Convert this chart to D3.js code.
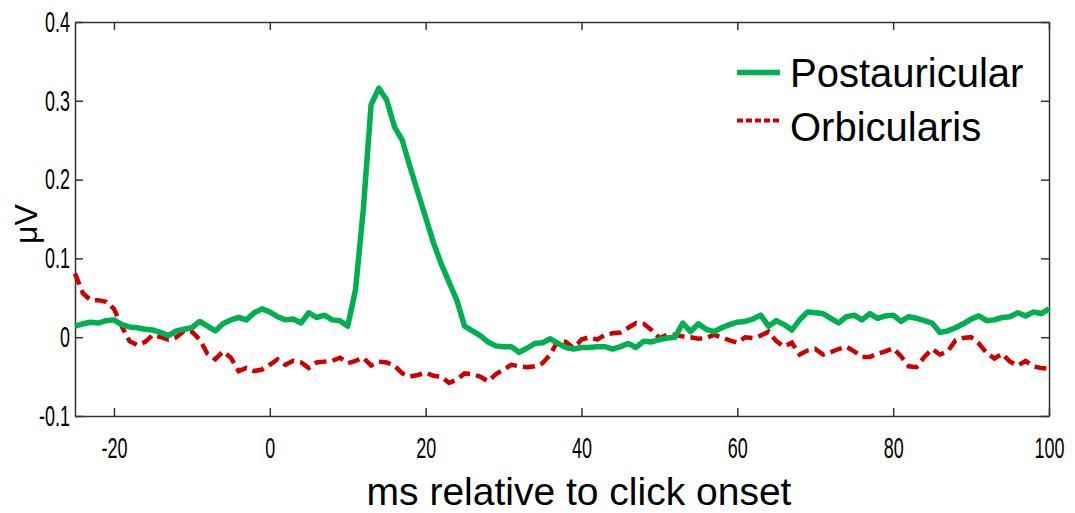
<!DOCTYPE html>
<html>
<head>
<meta charset="utf-8">
<script src="https://cdn.jsdelivr.net/npm/d3@7"></script>
<style>
  body { margin: 0; background: #fff; }
</style>
</head>
<body>
<div class="chart"></div>
<script>
// values, one sample per ms
var times = d3.range(-25, 101);
var postauricular = [
  0.014, 0.017, 0.019, 0.018, 0.021, 0.022, 0.016, 0.013, 0.012, 0.010,
  0.009, 0.006, 0.002, 0.008, 0.010, 0.012, 0.020, 0.014, 0.008, 0.017,
  0.022, 0.025, 0.022, 0.031, 0.036, 0.032, 0.026, 0.022, 0.023, 0.018,
  0.031, 0.025, 0.028, 0.022, 0.021, 0.014, 0.060, 0.162, 0.295, 0.316,
  0.301, 0.267, 0.250, 0.216, 0.184, 0.152, 0.120, 0.093, 0.070, 0.047,
  0.014, 0.008, 0.002, -0.006, -0.011, -0.012, -0.012, -0.019, -0.014, -0.008,
  -0.007, -0.002, -0.008, -0.013, -0.015, -0.013, -0.013, -0.012, -0.012, -0.015,
  -0.012, -0.008, -0.013, -0.005, -0.006, -0.003, -0.001, 0.000, 0.018, 0.007,
  0.017, 0.010, 0.007, 0.012, 0.016, 0.019, 0.020, 0.023, 0.028, 0.014,
  0.021, 0.016, 0.009, 0.022, 0.032, 0.031, 0.030, 0.024, 0.018, 0.026,
  0.028, 0.022, 0.030, 0.024, 0.027, 0.028, 0.020, 0.026, 0.024, 0.021,
  0.018, 0.006, 0.008, 0.012, 0.017, 0.023, 0.027, 0.021, 0.022, 0.025,
  0.026, 0.031, 0.027, 0.032, 0.030, 0.036
];
var orbicularis = [
  0.081, 0.056, 0.047, 0.047, 0.045, 0.036, 0.014, -0.005, -0.010, -0.006,
  0.003, 0.000, -0.003, 0.000, 0.008, 0.007, -0.003, -0.021, -0.028, -0.018,
  -0.026, -0.043, -0.039, -0.043, -0.041, -0.035, -0.028, -0.035, -0.030, -0.032,
  -0.039, -0.032, -0.031, -0.030, -0.026, -0.033, -0.030, -0.026, -0.036, -0.031,
  -0.032, -0.036, -0.046, -0.050, -0.048, -0.045, -0.049, -0.050, -0.058, -0.054,
  -0.046, -0.047, -0.050, -0.056, -0.047, -0.041, -0.035, -0.037, -0.038, -0.037,
  -0.033, -0.022, -0.004, -0.006, -0.014, -0.003, 0.000, -0.003, 0.003, 0.005,
  0.006, 0.012, 0.018, 0.017, 0.009, -0.001, 0.003, 0.003, 0.001, 0.000,
  -0.002, -0.001, 0.003, 0.000, -0.004, -0.007, 0.000, -0.001, 0.002, 0.007,
  -0.005, -0.012, -0.007, -0.022, -0.017, -0.015, -0.022, -0.019, -0.015, -0.012,
  -0.018, -0.025, -0.025, -0.021, -0.018, -0.014, -0.024, -0.037, -0.038, -0.025,
  -0.015, -0.022, -0.018, -0.004, -0.001, 0.000, -0.008, -0.020, -0.027, -0.021,
  -0.031, -0.036, -0.030, -0.037, -0.039, -0.040
];
var xTicks = [-20, 0, 20, 40, 60, 80, 100];
var yTicks = [-0.1, 0, 0.1, 0.2, 0.3, 0.4];
var seriesNames = ['Postauricular', 'Orbicularis'];

var width = 1075, height = 513;
var plotLeft = 75, plotRight = 1049, plotTop = 22, plotBottom = 416;

var svg = d3.select('.chart')
            .append('svg')
            .attr('width', width)
            .attr('height', height);

var x = d3.scaleLinear().domain([-25, 100]).range([plotLeft, plotRight]);
var y = d3.scaleLinear().domain([-0.1, 0.4]).range([plotBottom, plotTop]);

var axisColor = '#333';
var mainFont = 'Liberation Sans, Arial, sans-serif';
var squeeze = 0.62;   // tick labels are a condensed face in the original
var tickFmt = function(d) { return d === 0 ? '0' : String(d); };

// axes with inward ticks on all four sides
svg.append('g')
   .attr('transform', 'translate(0,' + plotBottom + ')')
   .call(d3.axisBottom(x).tickValues(xTicks).tickSizeInner(-8).tickSizeOuter(0).tickPadding(21).tickFormat(tickFmt));
svg.append('g')
   .attr('transform', 'translate(' + plotLeft + ',0)')
   .call(d3.axisLeft(y).tickValues(yTicks).tickSizeInner(-8).tickSizeOuter(0).tickPadding(8).tickFormat(tickFmt));
svg.append('g')
   .attr('transform', 'translate(0,' + plotTop + ')')
   .call(d3.axisTop(x).tickValues(xTicks).tickSizeInner(-8).tickSizeOuter(0).tickFormat(''));
svg.append('g')
   .attr('transform', 'translate(' + plotRight + ',0)')
   .call(d3.axisRight(y).tickValues(yTicks).tickSizeInner(-8).tickSizeOuter(0).tickFormat(''));

svg.selectAll('.domain, .tick line')
   .attr('stroke', axisColor)
   .attr('stroke-width', 1.5);

svg.selectAll('.tick text')
   .attr('fill', '#000')
   .attr('transform', 'scale(' + squeeze + ',1)')
   .style('font-family', mainFont)
   .style('font-size', '29px');

// data lines
var line = function(vals) {
  return d3.line()
           .x(function(d, i) { return x(times[i]); })
           .y(function(d) { return y(d); })(vals);
};

svg.append('path')
   .attr('d', line(orbicularis))
   .attr('fill', 'none')
   .attr('stroke', '#cc0000')
   .attr('stroke-width', 4.5)
   .attr('stroke-dasharray', '12,6');

svg.append('path')
   .attr('d', line(postauricular))
   .attr('fill', 'none')
   .attr('stroke', '#00b050')
   .attr('stroke-width', 5.5)
   .attr('stroke-linejoin', 'round');

// axis titles
svg.append('text')
   .attr('x', (plotLeft + plotRight) / 2 + 17)
   .attr('y', 505)
   .attr('text-anchor', 'middle')
   .style('font-family', mainFont)
   .style('font-size', '39px')
   .text('ms relative to click onset');

svg.append('text')
   .attr('transform', 'translate(37,224) rotate(-90)')
   .attr('text-anchor', 'middle')
   .style('font-family', mainFont)
   .style('font-size', '32px')
   .text('\u03bcV');

// legend
var legend = svg.append('g');
legend.append('line')
      .attr('x1', 737).attr('x2', 780).attr('y1', 72.5).attr('y2', 72.5)
      .attr('stroke', '#00b050').attr('stroke-width', 5.5);
legend.append('line')
      .attr('x1', 737).attr('x2', 780).attr('y1', 120.5).attr('y2', 120.5)
      .attr('stroke', '#cc0000').attr('stroke-width', 4)
      .attr('stroke-dasharray', '6,3');
legend.selectAll('text.lab')
      .data(seriesNames)
      .enter()
      .append('text')
      .attr('x', 790)
      .attr('y', function(d, i) { return 87 + i * 54; })
      .style('font-family', mainFont)
      .style('font-size', '40px')
      .text(function(d) { return d; });
</script>
</body>
</html>
